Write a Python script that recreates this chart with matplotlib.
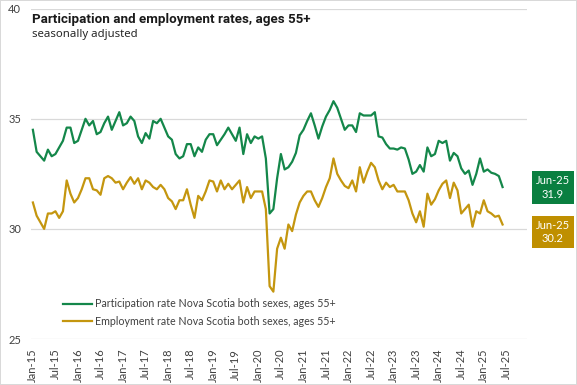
import matplotlib
matplotlib.use("Agg")
import matplotlib.pyplot as plt
import numpy as np
import pandas as pd

# ---- data ----
months = pd.date_range("2015-01-01", "2025-12-01", freq="MS").strftime("%b-%y").tolist()

participation = [
    34.5, 33.5, 33.3, 33.1, 33.6, 33.3, 33.4, 33.7, 34.0, 34.6, 34.6, 33.9, 34.0, 34.5, 35.0, 34.7,
    34.9, 34.3, 34.4, 34.8, 35.1, 34.5, 34.9, 35.3, 34.7, 34.8, 35.1, 34.9, 34.2, 33.9, 34.35, 34.1, 34.9,
    34.8, 35.0, 34.6, 34.2, 34.05, 33.4, 33.2, 33.3, 33.85, 33.85, 33.3, 33.7, 33.5, 34.05, 34.3, 34.3,
    33.8, 34.05, 34.3, 34.6, 34.3, 34.0, 34.6, 33.4, 34.3, 33.9, 34.2, 34.1, 34.2, 33.2, 30.7, 30.9,
    32.3, 33.4, 32.7, 32.8, 33.05, 33.45, 34.25, 34.5, 34.9, 35.25, 34.7, 34.1, 34.65, 35.1, 35.4, 35.8,
    35.5, 35.0, 34.5, 34.7, 34.7, 34.4, 35.25, 35.15, 35.15, 35.15, 35.3, 34.2, 34.15, 33.85, 33.65, 33.65,
    33.6, 33.7, 33.65, 33.15, 32.5, 32.6, 32.9, 32.6, 33.7, 33.3, 33.4, 34.0, 33.9, 34.0, 33.1, 33.45,
    33.3, 32.75, 32.5, 32.65, 32.0, 32.5, 33.2, 32.6, 32.7, 32.55, 32.5, 32.4, 31.9,
]
employment = [
    31.2, 30.6, 30.3, 30.0, 30.7, 30.7, 30.8, 30.5, 30.8, 32.2, 31.6, 31.2, 31.4, 31.8, 32.3, 32.3,
    31.8, 31.75, 31.55, 32.3, 32.4, 32.3, 32.1, 32.15, 31.8, 32.1, 32.35, 32.05, 32.3, 31.8, 32.2, 32.1, 31.9,
    31.8, 32.0, 31.8, 31.4, 31.25, 30.9, 31.3, 31.3, 31.8, 31.1, 30.5, 31.5, 31.3, 31.7, 32.2, 32.15,
    31.7, 32.2, 31.8, 32.05, 31.8, 32.0, 32.2, 31.2, 31.9, 31.4, 31.7, 31.7, 31.7, 30.9, 27.4, 27.15,
    29.1, 29.6, 29.1, 30.2, 29.9, 30.65, 31.2, 31.5, 31.7, 31.7, 31.3, 31.0, 31.4, 31.9, 32.3, 33.2,
    32.5, 32.2, 31.95, 31.85, 32.2, 31.7, 32.8, 32.1, 32.6, 33.0, 32.8, 32.2, 31.8, 32.1, 31.9, 32.0,
    31.7, 31.7, 31.7, 31.3, 30.7, 30.3, 30.8, 30.1, 31.6, 31.1, 31.35, 31.75, 32.05, 32.2, 31.4, 32.1,
    31.75, 30.7, 30.9, 31.1, 30.1, 30.8, 30.7, 31.3, 30.8, 30.7, 30.55, 30.6, 30.2,
]
tick_labels = ["Jan-15", "Jul-15", "Jan-16", "Jul-16", "Jan-17", "Jul-17", "Jan-18", "Jul-18",
               "Jan-19", "Jul-19", "Jan-20", "Jul-20", "Jan-21", "Jul-21", "Jan-22", "Jul-22",
               "Jan-23", "Jul-23", "Jan-24", "Jul-24", "Jan-25", "Jul-25"]
y_ticks = [25, 30, 35, 40]
series_names = ["Participation rate Nova Scotia both sexes, ages 55+",
                "Employment rate Nova Scotia both sexes, ages 55+"]
last_label = "Jun-25"

# ---- style ----
GREEN = "#14874A"
GREEN_BOX = "#0A7F40"
GOLD = "#C4960F"
GOLD_BOX = "#BF8F00"
TXT = "#404040"
FONT = ["Lato", "DejaVu Sans"]

fig = plt.figure(figsize=(5.77, 3.85), dpi=100)
fig.patch.set_facecolor("white")
fig.patch.set_edgecolor("#D9D9D9")
fig.patch.set_linewidth(1.2)

ax = fig.add_axes([31 / 577, 1 - 339 / 385, (527 - 31) / 577, (339 - 8.7) / 385])
x = np.arange(len(participation))
ax.plot(x, participation, color=GREEN, lw=1.6, label=series_names[0], solid_joinstyle="round")
ax.plot(x, employment, color=GOLD, lw=1.6, label=series_names[1], solid_joinstyle="round")

ax.set_xlim(-0.5, len(months) - 0.5)
ax.set_ylim(25, 40)
ax.set_yticks(y_ticks)
ax.set_yticklabels([str(v) for v in y_ticks], fontsize=8, color=TXT, family=FONT)
tick_pos = [months.index(t) for t in tick_labels]
ax.set_xticks(tick_pos)
ax.set_xticklabels(tick_labels, rotation=90, fontsize=8, color=TXT, family=FONT)
ax.tick_params(axis="both", length=0)
ax.tick_params(axis="x", pad=7)
ax.tick_params(axis="y", pad=7)
ax.grid(axis="y", color="#D9D9D9", lw=0.9)
ax.set_axisbelow(True)
for s in ax.spines.values():
    s.set_visible(False)

# title
fig.text(32 / 577, 1 - 20 / 385, "Participation and employment rates, ages 55+",
         fontsize=9.6, fontweight="bold", family=["Roboto", "DejaVu Sans"], color="#1a1a1a",
         va="center", ha="left")
fig.text(32 / 577, 1 - 35 / 385, "seasonally adjusted",
         fontsize=8.2, family=["Noto Sans", "DejaVu Sans"], color="#262626", va="center", ha="left")

# legend
leg = ax.legend(loc="lower left", bbox_to_anchor=(28 / 496, 8 / 330), frameon=False,
                prop={"family": FONT, "size": 7.7}, handlelength=2.7, handletextpad=0.25,
                labelspacing=0.6, borderaxespad=0)
for t in leg.get_texts():
    t.set_color(TXT)

# end labels
def end_box(val, face, yc):
    fig.text(553 / 577, 1 - yc / 385, f"{last_label}\n{val:.1f}", fontsize=8, color="white",
             family=FONT, ha="center", va="center", linespacing=1.25,
             bbox=dict(boxstyle="square,pad=0.35", facecolor=face, edgecolor="none"))

end_box(participation[-1], GREEN_BOX, 187.5)
end_box(employment[-1], GOLD_BOX, 232)

fig.savefig("out.png", dpi=100, facecolor=fig.get_facecolor(), edgecolor=fig.get_edgecolor())
